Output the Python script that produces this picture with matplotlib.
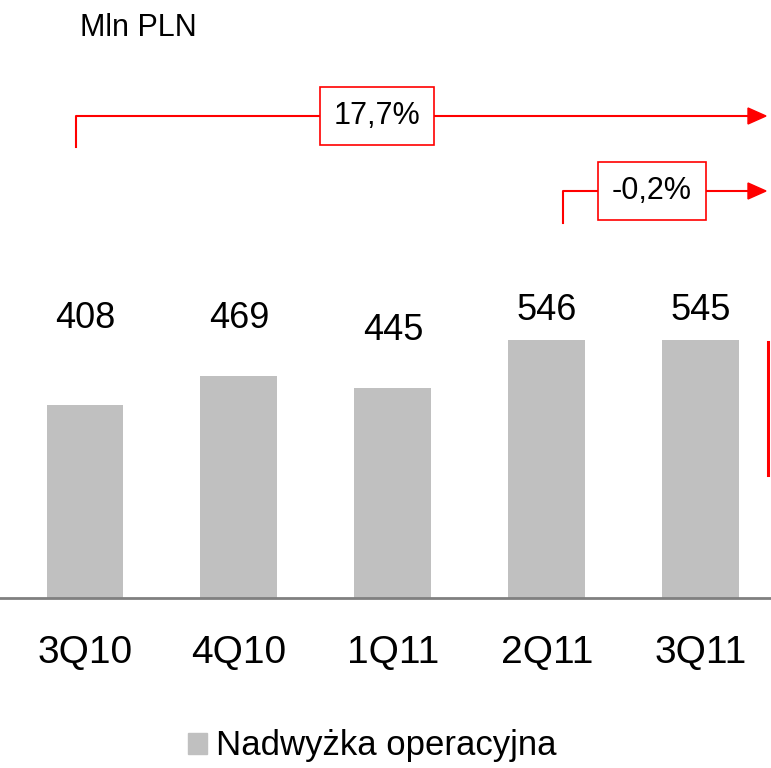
import matplotlib
matplotlib.use("Agg")
import matplotlib.pyplot as plt
from matplotlib.patches import Patch
from matplotlib.lines import Line2D

plt.rcParams['font.family'] = ['Liberation Sans', 'DejaVu Sans']

# data
quarters = ["3Q10", "4Q10", "1Q11", "2Q11", "3Q11"]
values = [408, 469, 445, 546, 545]
label_heights = [590, 590, 565, 607, 607]  # where the value labels sit (same units as values)
growth_labels = ["17,7%", "-0,2%"]
unit_label = "Mln PLN"
series_name = "Nadwyżka operacyjna"

W, H = 771, 768
BAR = "#c0c0c0"
RED = "#ff0000"

fig = plt.figure(figsize=(W / 100, H / 100), dpi=100)


def px(x, y):
    # pixel position (from top-left) -> figure fraction
    return x / W, 1 - y / H


base = 598
ax = fig.add_axes([0, 1 - base / H, 1, base / H])
ax.bar(range(len(values)), values, width=0.5, color=BAR)
ax.set_xlim(-0.552, 4.455)
ax.set_ylim(0, base / 0.473)

for i, (v, ly) in enumerate(zip(values, label_heights)):
    ax.text(i, ly, str(v), ha="center", va="center", fontsize=26)

ax.set_xticks(range(len(quarters)))
ax.set_xticklabels(quarters, fontsize=28)
ax.tick_params(axis="x", length=0, pad=27)
ax.set_yticks([])
for s in ["top", "left", "right"]:
    ax.spines[s].set_visible(False)
ax.spines["bottom"].set_color("#808080")
ax.spines["bottom"].set_linewidth(2)

# red marker line on the right
fig.add_artist(Line2D(*zip(px(768, 342), px(768, 475)), color=RED, lw=2.2))


def growth_arrow(x0, y_low, y_line, box_center, text):
    fig.add_artist(Line2D(*zip(px(x0, y_low), px(x0, y_line), px(748, y_line)),
                          color=RED, lw=1.5))
    fig.add_artist(plt.Polygon([px(748, y_line - 8), px(766, y_line), px(748, y_line + 8)],
                               closed=True, color=RED, transform=fig.transFigure))
    fig.text(*px(box_center, y_line), text, ha="center", va="center", fontsize=22,
             bbox=dict(boxstyle="square,pad=0.45", fc="white", ec=RED, lw=1.2))


growth_arrow(76, 147, 116, 377, growth_labels[0])
growth_arrow(563, 223, 191, 652, growth_labels[1])

fig.text(*px(80, 28), unit_label, ha="left", va="center", fontsize=22)

fig.legend(handles=[Patch(color=BAR, label=series_name)], loc="center",
           bbox_to_anchor=px(372, 746), frameon=False, fontsize=25,
           handlelength=0.55, handleheight=0.55, handletextpad=0.25)

fig.savefig("out.png", dpi=100)
